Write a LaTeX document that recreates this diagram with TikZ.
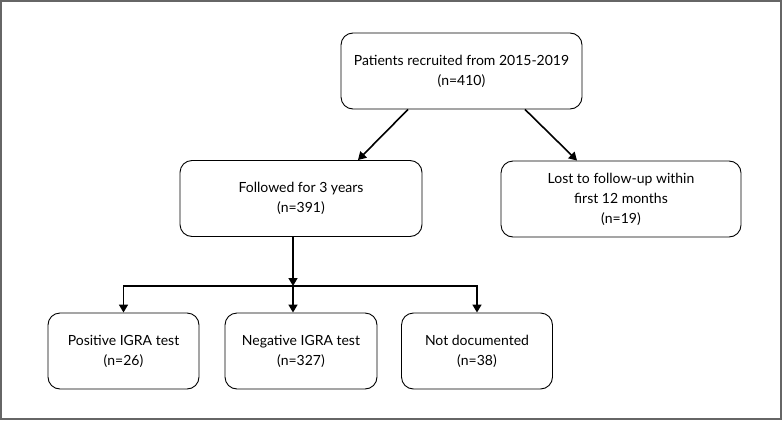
\documentclass[tikz,border=0pt]{standalone}
\usepackage{fontspec}
\setmainfont{Lato}
\usetikzlibrary{arrows.meta}
\begin{document}
\begin{tikzpicture}[x=1pt, y=-1pt, font=\fontsize{14}{20}\selectfont,
    box/.style={draw, rounded corners=12pt, align=center, line width=0.9pt,
      minimum height=76pt, inner sep=0pt},
    arr/.style={line width=1.6pt, -{Triangle[length=8pt, width=9pt]}}]
    % frame of the figure
    \useasboundingbox (0,0) rectangle (783,420);
    \draw[black!60, line width=1.2pt] (1,1) rectangle (781,419);
    % recruitment and first split
    \node[box, minimum width=241pt] (top) at (461.5,71) {Patients recruited from 2015-2019\\(n=410)};
    \node[box, minimum width=242pt] (follow) at (301,198.5) {Followed for 3 years\\(n=391)};
    \node[box, minimum width=240pt] (lost) at (621,199) {Lost to follow-up within\\first 12 months\\(n=19)};
    % IGRA outcomes
    \node[box, minimum width=151pt] (pos) at (123.5,351) {Positive IGRA test\\(n=26)};
    \node[box, minimum width=152pt] (neg) at (301,351) {Negative IGRA test\\(n=327)};
    \node[box, minimum width=151pt] (notdoc) at (477,351) {Not documented\\(n=38)};
    % diagonal arrows from the top box
    \draw[arr] ([xshift=-53.5pt]top.south) -- ([xshift=57pt]follow.north);
    \draw[arr] ([xshift=63.5pt]top.south) -- ([xshift=-44pt]lost.north);
    % branching to the three outcomes
    \coordinate (split) at (293,286);
    \draw[arr] (follow.south -| split) -- (split);
    \draw[arr] (split) -| (pos.north);
    \draw[arr] (split) -- (split |- neg.north);
    \draw[arr] (split) -| (notdoc.north);
\end{tikzpicture}
\end{document}
